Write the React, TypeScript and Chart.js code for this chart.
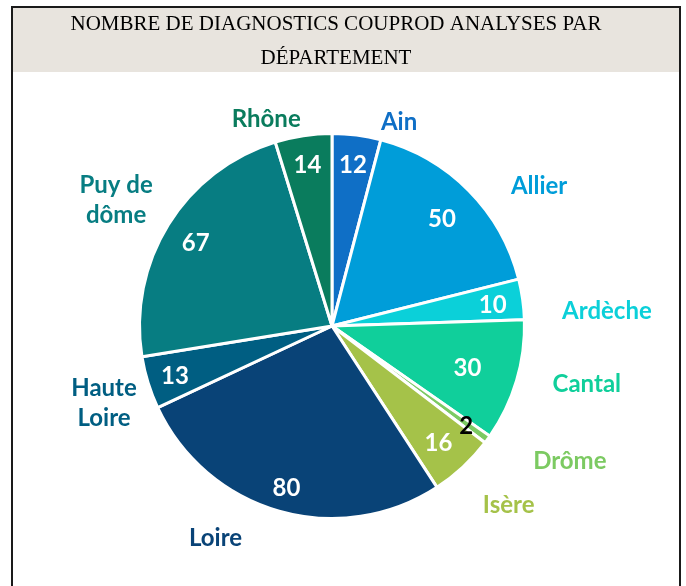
import React, { useEffect, useRef } from "react";
import { Chart, registerables } from "chart.js";

Chart.register(...registerables);

const TITLE_LINES = ["NOMBRE DE DIAGNOSTICS COUPROD ANALYSES PAR", "DÉPARTEMENT"];
const departments = ["Ain", "Allier", "Ardèche", "Cantal", "Drôme", "Isère", "Loire", "Haute Loire", "Puy de dôme", "Rhône"];
const diagnostics = [12, 50, 10, 30, 2, 16, 80, 13, 67, 14];
const sliceColors = ["#0F6FC6", "#009DD9", "#0BD0D9", "#10CF9B", "#7CCA62", "#A5C249", "#094377", "#005E82", "#077D82", "#0A7C5D"];
const valueTextColors = ["#FFFFFF", "#FFFFFF", "#FFFFFF", "#FFFFFF", "#000000", "#FFFFFF", "#FFFFFF", "#FFFFFF", "#FFFFFF", "#FFFFFF"];

// layout of the data labels (relative to each slice's mid-angle and radius)
const nameAngleShift = [10.7, 10.3, 4.5, -4.1, -6.9, -2.1, 13.1, -1.1, -1.2, -8.9];
const nameRadius = [1.134, 1.314, 1.442, 1.366, 1.427, 1.309, 1.257, 1.257, 1.314, 1.147];
const valueRadius = [0.86, 0.81, 0.85, 0.74, 0.87, 0.82, 0.87, 0.86, 0.84, 0.86];

const LABEL_FONT = 'bold 24px "Lato", "Open Sans", sans-serif';
const TEXT_DY = 2;

const splitName = (s: string): string[] => {
  const i = s.lastIndexOf(" ");
  return i > 0 ? [s.slice(0, i), s.slice(i + 1)] : [s];
};

const decorPlugin = {
  id: "decor",
  beforeDraw(chart: any) {
    const ctx = chart.ctx;
    ctx.save();
    ctx.fillStyle = "#E8E4DE";
    ctx.fillRect(0, 0, chart.width, 64);
    ctx.fillStyle = "#000000";
    ctx.font = '21px "Liberation Serif", serif';
    ctx.textAlign = "center";
    ctx.textBaseline = "alphabetic";
    ctx.fillText(TITLE_LINES[0], 323, 21.5);
    ctx.fillText(TITLE_LINES[1], 323, 56);
    ctx.restore();
  },
  afterDatasetsDraw(chart: any) {
    const ctx = chart.ctx;
    const meta = chart.getDatasetMeta(0);
    ctx.save();
    ctx.font = LABEL_FONT;
    ctx.textAlign = "center";
    ctx.textBaseline = "middle";
    meta.data.forEach((arc: any, i: number) => {
      const p = arc.getProps(["x", "y", "startAngle", "endAngle", "outerRadius"], true);
      const R = p.outerRadius - 1.5;
      const mid = (p.startAngle + p.endAngle) / 2;
      // value
      ctx.fillStyle = valueTextColors[i];
      const vr = R * valueRadius[i];
      ctx.fillText(String(diagnostics[i]), p.x + Math.cos(mid) * vr, p.y + Math.sin(mid) * vr + TEXT_DY);
      // name
      const a = mid + (nameAngleShift[i] * Math.PI) / 180;
      const nr = R * nameRadius[i];
      const nx = p.x + Math.cos(a) * nr;
      const ny = p.y + Math.sin(a) * nr + TEXT_DY;
      const lines = splitName(departments[i]);
      ctx.fillStyle = sliceColors[i];
      const lh = 30;
      lines.forEach((ln, k) => {
        ctx.fillText(ln, nx, ny + (k - (lines.length - 1) / 2) * lh);
      });
    });
    ctx.restore();
  },
};

export default function App() {
  const ref = useRef<HTMLCanvasElement | null>(null);
  useEffect(() => {
    if (!ref.current) return;
    const chart = new Chart(ref.current, {
      type: "pie",
      data: {
        labels: departments,
        datasets: [
          {
            data: diagnostics,
            backgroundColor: sliceColors,
            borderColor: "#FFFFFF",
            borderWidth: 3,
          },
        ],
      },
      options: {
        responsive: false,
        animation: false,
        devicePixelRatio: 1,
        events: [],
        layout: { padding: { top: 124, bottom: 66, left: 100, right: 128 } },
        plugins: {
          legend: { display: false },
          tooltip: { enabled: false },
          title: { display: false },
        },
      },
      plugins: [decorPlugin],
    });
    return () => chart.destroy();
  }, []);

  return (
    <div style={{ position: "absolute", left: 0, top: 0, width: 686, height: 586, overflow: "hidden", background: "#FFFFFF" }}>
      <div
        style={{
          position: "absolute",
          left: 11,
          top: 6,
          width: 670,
          height: 600,
          boxSizing: "border-box",
          borderLeft: "2px solid #1A1A1A",
          borderTop: "2px solid #1A1A1A",
          borderRight: "2px solid #1A1A1A",
        }}
      >
        <canvas ref={ref} width={666} height={578} style={{ display: "block", width: 666, height: 578 }} />
      </div>
    </div>
  );
}
